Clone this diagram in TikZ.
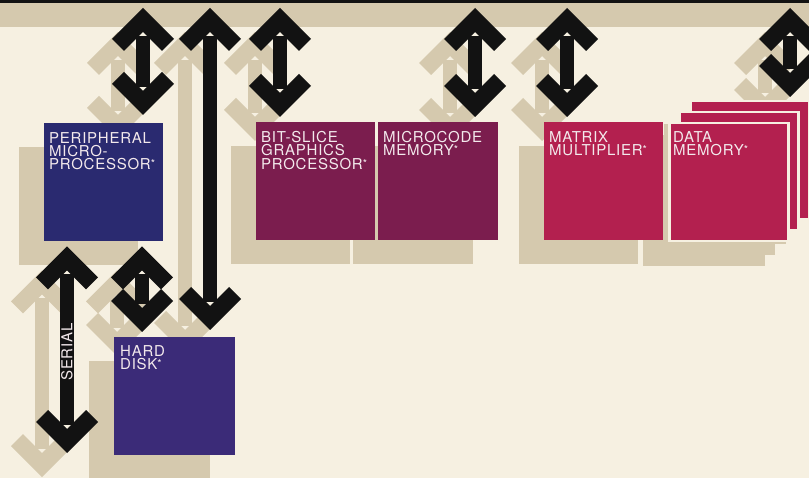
\documentclass[tikz,border=0pt]{standalone}
\usepackage{fontspec}
\setmainfont{TeX Gyre Heros}
\newfontfamily\boxfont[LetterSpace=5]{TeX Gyre Heros}
\usetikzlibrary{calc}

\definecolor{cream}{HTML}{F6F0E1}
\definecolor{tanc}{HTML}{D5C9AE}
\definecolor{ink}{HTML}{121212}
\definecolor{navy}{HTML}{2A2A70}
\definecolor{indigo}{HTML}{3B2B78}
\definecolor{plum}{HTML}{7B1D4E}
\definecolor{crimson}{HTML}{B3204F}
\definecolor{paper}{HTML}{F3E9EC}

\newcommand\starmark{\raisebox{2pt}{\fontsize{11}{11}\selectfont*}}

\pgfdeclarearrow{
  name=Chevron,
  setup code={
    \pgfarrowssettipend{0pt}
    \pgfarrowssetlineend{-28pt}
    \pgfarrowssetvisualbackend{-43pt}
    \pgfarrowssetbackend{-43pt}
  },
  drawing code={
    \pgfpathmoveto{\pgfqpoint{0pt}{0pt}}
    \pgfpathlineto{\pgfqpoint{-31pt}{31pt}}
    \pgfpathlineto{\pgfqpoint{-43pt}{19pt}}
    \pgfpathlineto{\pgfqpoint{-24pt}{0pt}}
    \pgfpathlineto{\pgfqpoint{-43pt}{-19pt}}
    \pgfpathlineto{\pgfqpoint{-31pt}{-31pt}}
    \pgfpathclose
    \pgfusepathqfill
  }
}

\pgfdeclarelayer{shade}
\pgfsetlayers{shade,main}

\tikzset{
  box/.style={minimum width=119pt, minimum height=118pt, inner sep=0pt, anchor=north west},
  stack/.style={box, draw=cream, line width=2.5pt},
  boxtext/.style={anchor=north west, inner sep=0pt, xshift=5pt, yshift=-9pt, text=paper, align=left, font=\boxfont\fontsize{15}{13.4}\selectfont},
  link/.style={ink, line width=14pt, Chevron-Chevron},
  backdrop/.style={tanc, transform canvas={shift={(-25pt,-24pt)}}},
}

\begin{document}
\begin{tikzpicture}[x=1pt, y=-1pt]
\useasboundingbox (0,0) rectangle (809,478);
\begin{pgfonlayer}{shade}
\fill[cream] (0,0) rectangle (809,478);
\fill[tanc] (0,3) rectangle (809,27);
\end{pgfonlayer}
\fill[ink] (0,0) rectangle (809,3);

\node[box, fill=navy] (periph) at (44,123) {};
\node[box, fill=plum] (bitslice) at (256,122) {};
\node[box, fill=plum, minimum width=120pt] (microcode) at (378,122) {};
\node[box, fill=crimson] (matrix) at (544,122) {};
\node[stack, fill=crimson] (back) at (689,100) {};
\node[stack, fill=crimson] (middle) at (678,111) {};
\node[stack, fill=crimson] (data) at (668,122) {};
\node[box, fill=indigo, minimum width=121pt] (disk) at (114,337) {};

\node[boxtext] at (periph.north west) {PERIPHERAL\\MICRO-\\PROCESSOR\starmark};
\node[boxtext] at (bitslice.north west) {BIT-SLICE\\GRAPHICS\\PROCESSOR\starmark};
\node[boxtext] at (microcode.north west) {MICROCODE\\MEMORY\starmark};
\node[boxtext] at (matrix.north west) {MATRIX\\MULTIPLIER\starmark};
\node[boxtext] at (data.north west) {DATA\\MEMORY\starmark};
\node[boxtext, xshift=1pt, yshift=1pt] at (disk.north west) {HARD\\DISK\starmark};

\begin{pgfonlayer}{shade}
\foreach \b in {periph,bitslice,microcode,matrix,back,middle,data,disk}
  \fill[backdrop] (\b.north west) rectangle (\b.south east);
\end{pgfonlayer}

\coordinate (t1) at (143,8);
\coordinate (t2) at (210,8);
\coordinate (t3) at (280,8);
\coordinate (t4) at (475,8);
\coordinate (t5) at (567,8);
\coordinate (t6) at (790,8);
\coordinate (e7) at (67,453);
\coordinate (c8) at (142,290);
\coordinate (b1) at (t1 |- periph.north);
\coordinate (b2) at (t2 |- disk.north);
\coordinate (b3) at (t3 |- bitslice.north);
\coordinate (b4) at (t4 |- microcode.north);
\coordinate (b5) at (t5 |- matrix.north);
\coordinate (b6) at (t6 |- back.north);
\coordinate (s7) at (periph.south -| e7);
\coordinate (s8) at (periph.south -| c8);
\coordinate (b8) at (disk.north -| c8);

\foreach \a/\b/\ga/\gb in {t1/b1/0/8, t2/b2/0/7, t3/b3/0/5, t4/b4/0/5, t5/b5/0/5, t6/b6/0/3, s7/e7/5/0, s8/b8/5/5}{
  \begin{pgfonlayer}{shade}
  \draw[link, backdrop, shorten <=\ga pt, shorten >=\gb pt] (\a) -- (\b);
  \end{pgfonlayer}
  \draw[link, shorten <=\ga pt, shorten >=\gb pt] (\a) -- (\b);
}

\node[text=paper, rotate=90, inner sep=0pt, font=\boxfont\fontsize{15}{15}\selectfont] (serial) at (67,352) {SERIAL};
\end{tikzpicture}
\end{document}
